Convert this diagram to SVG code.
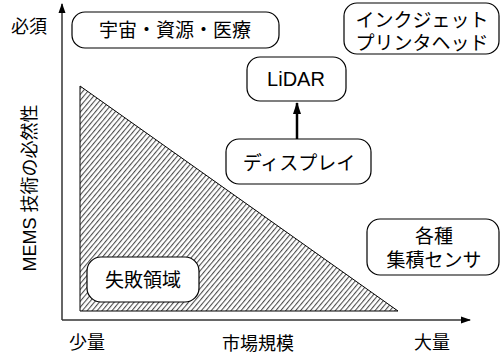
<svg xmlns="http://www.w3.org/2000/svg" width="502" height="356" viewBox="0 0 502 356">
<style>
text{font-family:"Liberation Sans","Noto Sans CJK JP",sans-serif;fill:#000;}
.lbl{font-size:18px;}
.bt{font-size:19px;text-anchor:middle;}
.box{fill:#fff;stroke:#000;stroke-width:1.2;}
.axis{stroke:#333;stroke-width:1.5;fill:none;}
</style>
<defs>
<pattern id="hatch" patternUnits="userSpaceOnUse" width="3.8" height="4" patternTransform="rotate(40)">
<rect x="0" y="0" width="3.8" height="4" fill="#fff"/>
<line x1="0.6" y1="0" x2="0.6" y2="4" stroke="#222" stroke-width="0.9"/>
</pattern>
<marker id="ah" markerWidth="10" markerHeight="10" refX="9" refY="5" orient="auto" markerUnits="userSpaceOnUse">
<path d="M0,1.5 L10,5 L0,8.5 Z" fill="#000"/>
</marker>
<marker id="ah2" markerWidth="12" markerHeight="10" refX="11" refY="5" orient="auto" markerUnits="userSpaceOnUse">
<path d="M0,1 L12,5 L0,9 Z" fill="#000"/>
</marker>
</defs>
<rect width="502" height="356" fill="#fff"/>
<g id="region">
<path d="M80,86 L80,311 L398,311 Z" fill="url(#hatch)" stroke="#000" stroke-width="1"/>
</g>
<g id="axes">
<line class="axis" x1="62" y1="320" x2="62" y2="4" marker-end="url(#ah)"/>
<line class="axis" x1="62" y1="320" x2="470" y2="320" marker-end="url(#ah)"/>
</g>
<g id="connectors">
<line x1="297" y1="139" x2="297" y2="103" stroke="#000" stroke-width="2.5" marker-end="url(#ah2)"/>
</g>
<g id="space">
<rect class="box" x="72" y="12" width="207" height="36" rx="13"/>
<text class="bt" x="175" y="37">宇宙・資源・医療</text>
</g>
<g id="inkjet">
<rect class="box" x="344" y="3" width="155" height="51" rx="13"/>
<text class="bt" x="422" y="27">インクジェット</text>
<text class="bt" x="422" y="50">プリンタヘッド</text>
</g>
<g id="lidar">
<rect class="box" x="247" y="57" width="99" height="44" rx="13"/>
<text class="bt" x="296" y="86" style="font-size:20px">LiDAR</text>
</g>
<g id="display">
<rect class="box" x="226" y="139" width="145" height="45" rx="13"/>
<text class="bt" x="299" y="170">ディスプレイ</text>
</g>
<g id="sensor">
<rect class="box" x="367" y="219" width="132" height="56" rx="13"/>
<text class="bt" x="434" y="243">各種</text>
<text class="bt" x="434" y="267">集積センサ</text>
</g>
<g id="failure">
<rect class="box" x="87" y="257" width="112" height="45" rx="14"/>
<text class="bt" x="143" y="287">失敗領域</text>
</g>
<g id="labels">
<text class="lbl" x="11" y="33">必須</text>
<text class="lbl" x="69" y="349">少量</text>
<text class="lbl" x="222" y="350">市場規模</text>
<text class="lbl" x="414" y="349">大量</text>
<text class="lbl" text-anchor="middle" transform="translate(36,188) rotate(-90)">MEMS 技術の必然性</text>
</g>
</svg>
